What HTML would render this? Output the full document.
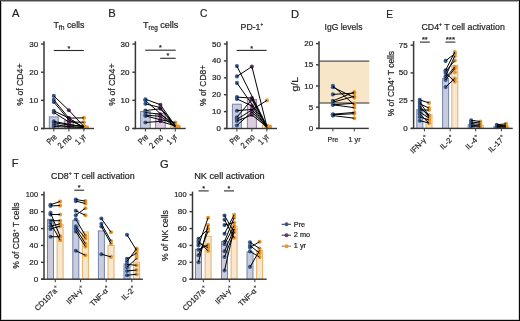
<!DOCTYPE html>
<html><head><meta charset="utf-8"><style>
html,body{margin:0;padding:0;background:#fff;}
body{width:520px;height:321px;overflow:hidden;position:relative;}
svg{position:absolute;left:0;top:0;font-family:"Liberation Sans", sans-serif;will-change:transform;}
text{stroke:#262626;stroke-width:0.22px;}
.b{position:absolute;}
</style></head><body>
<svg width="520" height="321" viewBox="0 0 520 321">
<text x="12" y="17" font-size="11.2" fill="#262626">A</text>
<text x="108.2" y="17" font-size="11.2" fill="#262626">B</text>
<text x="200.1" y="17" font-size="11.2" textLength="7.4" lengthAdjust="spacingAndGlyphs" fill="#262626">C</text>
<text x="291" y="17.5" font-size="11.2" fill="#262626">D</text>
<text x="386.3" y="17.8" font-size="11.2" textLength="6.7" lengthAdjust="spacingAndGlyphs" fill="#262626">E</text>
<text x="11.8" y="166.5" font-size="11.2" fill="#262626">F</text>
<text x="160" y="167.5" font-size="11.2" fill="#262626">G</text>
<text x="53.4" y="27.7" font-size="9.3" textLength="31" lengthAdjust="spacingAndGlyphs" fill="#262626">T<tspan font-size="7" dy="2">fh</tspan><tspan dy="-2" font-size="9.1"> cells</tspan></text>
<text x="143" y="27.7" font-size="9.1" fill="#262626">T<tspan font-size="6.3" dy="2">reg</tspan><tspan dy="-2"> cells</tspan></text>
<text x="240.6" y="29.6" font-size="9.4" textLength="22.6" lengthAdjust="spacingAndGlyphs" fill="#262626">PD-1<tspan font-size="5" dy="-3.5">+</tspan></text>
<text x="324.6" y="29.6" font-size="9.2" textLength="37.9" lengthAdjust="spacingAndGlyphs" fill="#262626">IgG levels</text>
<text x="421.4" y="29.9" font-size="9.2" textLength="83.4" lengthAdjust="spacingAndGlyphs" fill="#262626">CD4<tspan font-size="5" dy="-3.5">+</tspan><tspan dy="3.5"> T cell activation</tspan></text>
<text x="51" y="178.5" font-size="9.2" textLength="83.6" lengthAdjust="spacingAndGlyphs" fill="#262626">CD8<tspan font-size="5" dy="-3.5">+</tspan><tspan dy="3.5"> T cell activation</tspan></text>
<text x="194.2" y="178.5" font-size="9.2" textLength="70.4" lengthAdjust="spacingAndGlyphs" fill="#262626">NK cell activation</text>
<rect x="49.3" y="116.9" width="9" height="11.599999999999994" fill="#cacbdd" stroke="#7385ab" stroke-width="1"/>
<rect x="64.4" y="120.8" width="9" height="7.700000000000003" fill="#dccde0" stroke="#9c78a1" stroke-width="1"/>
<rect x="79.4" y="126.8" width="9" height="1.7000000000000028" fill="#f7e6d0" stroke="#e8b168" stroke-width="1"/>
<circle cx="53.8" cy="95.9" r="2.05" fill="#385a8c"/>
<circle cx="68.9" cy="110.3" r="2.05" fill="#6b3a6d"/>
<circle cx="83.9" cy="126.5" r="2.05" fill="#e6992e"/>
<circle cx="53.8" cy="99.8" r="2.05" fill="#385a8c"/>
<circle cx="68.9" cy="118.1" r="2.05" fill="#6b3a6d"/>
<circle cx="83.9" cy="127.5" r="2.05" fill="#e6992e"/>
<circle cx="53.8" cy="102" r="2.05" fill="#385a8c"/>
<circle cx="68.9" cy="120.1" r="2.05" fill="#6b3a6d"/>
<circle cx="83.9" cy="127" r="2.05" fill="#e6992e"/>
<circle cx="53.8" cy="110.9" r="2.05" fill="#385a8c"/>
<circle cx="68.9" cy="118.1" r="2.05" fill="#6b3a6d"/>
<circle cx="83.9" cy="117.9" r="2.05" fill="#e6992e"/>
<circle cx="53.8" cy="112.5" r="2.05" fill="#385a8c"/>
<circle cx="68.9" cy="122" r="2.05" fill="#6b3a6d"/>
<circle cx="83.9" cy="122.2" r="2.05" fill="#e6992e"/>
<circle cx="53.8" cy="121.4" r="2.05" fill="#385a8c"/>
<circle cx="68.9" cy="124.3" r="2.05" fill="#6b3a6d"/>
<circle cx="83.9" cy="127" r="2.05" fill="#e6992e"/>
<circle cx="53.8" cy="122.7" r="2.05" fill="#385a8c"/>
<circle cx="68.9" cy="125" r="2.05" fill="#6b3a6d"/>
<circle cx="83.9" cy="126" r="2.05" fill="#e6992e"/>
<circle cx="53.8" cy="124.7" r="2.05" fill="#385a8c"/>
<circle cx="68.9" cy="126.5" r="2.05" fill="#6b3a6d"/>
<circle cx="83.9" cy="127.5" r="2.05" fill="#e6992e"/>
<circle cx="53.8" cy="126.6" r="2.05" fill="#385a8c"/>
<circle cx="68.9" cy="127" r="2.05" fill="#6b3a6d"/>
<circle cx="83.9" cy="127.5" r="2.05" fill="#e6992e"/>
<polyline points="53.8,95.9 68.9,110.3 83.9,126.5" fill="none" stroke="#000" stroke-width="1.0"/>
<polyline points="53.8,99.8 68.9,118.1 83.9,127.5" fill="none" stroke="#000" stroke-width="1.0"/>
<polyline points="53.8,102.0 68.9,120.1 83.9,127.0" fill="none" stroke="#000" stroke-width="1.0"/>
<polyline points="53.8,110.9 68.9,118.1 83.9,117.9" fill="none" stroke="#000" stroke-width="1.0"/>
<polyline points="53.8,112.5 68.9,122.0 83.9,122.2" fill="none" stroke="#000" stroke-width="1.0"/>
<polyline points="53.8,121.4 68.9,124.3 83.9,127.0" fill="none" stroke="#000" stroke-width="1.0"/>
<polyline points="53.8,122.7 68.9,125.0 83.9,126.0" fill="none" stroke="#000" stroke-width="1.0"/>
<polyline points="53.8,124.7 68.9,126.5 83.9,127.5" fill="none" stroke="#000" stroke-width="1.0"/>
<polyline points="53.8,126.6 68.9,127.0 83.9,127.5" fill="none" stroke="#000" stroke-width="1.0"/>
<circle cx="86.8" cy="127.2" r="2.05" fill="#e6992e"/>
<rect x="43.25" y="41.2" width="1.5" height="88.0" fill="#383838"/>
<line x1="41.0" y1="128.5" x2="44" y2="128.5" stroke="#383838" stroke-width="1.4"/>
<text x="38.1" y="131.0" font-size="8.0" text-anchor="end" fill="#262626">0</text>
<line x1="41.0" y1="100.35" x2="44" y2="100.35" stroke="#383838" stroke-width="1.4"/>
<text x="38.1" y="102.85" font-size="8.0" text-anchor="end" fill="#262626">10</text>
<line x1="41.0" y1="72.2" x2="44" y2="72.2" stroke="#383838" stroke-width="1.4"/>
<text x="38.1" y="74.7" font-size="8.0" text-anchor="end" fill="#262626">20</text>
<line x1="41.0" y1="44.05" x2="44" y2="44.05" stroke="#383838" stroke-width="1.4"/>
<text x="38.1" y="46.55" font-size="8.0" text-anchor="end" fill="#262626">30</text>
<rect x="41" y="127.8" width="53" height="1.4" fill="#383838"/>
<text x="23.2" y="84.6" font-size="9.6" text-anchor="middle" textLength="42.2" lengthAdjust="spacingAndGlyphs" transform="rotate(-90 23.2 84.6)" fill="#262626">% of CD4+</text>
<line x1="53.8" y1="128.5" x2="53.8" y2="131.5" stroke="#383838" stroke-width="1.0"/>
<line x1="68.9" y1="128.5" x2="68.9" y2="131.5" stroke="#383838" stroke-width="1.0"/>
<line x1="83.9" y1="128.5" x2="83.9" y2="131.5" stroke="#383838" stroke-width="1.0"/>
<text x="57.4" y="137.5" font-size="8.5" fill="#262626" text-anchor="end" textLength="10.5" lengthAdjust="spacingAndGlyphs" transform="rotate(-45 57.4 137.5)">Pre</text>
<text x="72.5" y="137.5" font-size="8.5" fill="#262626" text-anchor="end" textLength="16.3" lengthAdjust="spacingAndGlyphs" transform="rotate(-45 72.5 137.5)">2 mo</text>
<text x="86.5" y="137.3" font-size="8.5" fill="#262626" text-anchor="end" textLength="11.2" lengthAdjust="spacingAndGlyphs" transform="rotate(-45 86.5 137.3)">1 yr</text>
<line x1="53.8" y1="50.5" x2="83.8" y2="50.5" stroke="#2a2a2a" stroke-width="1.1"/>
<text x="68.8" y="50.6" font-size="7.2" text-anchor="middle" fill="#262626">*</text>
<rect x="140.6" y="111.5" width="9.6" height="17.0" fill="#cacbdd" stroke="#7385ab" stroke-width="1"/>
<rect x="155.6" y="113.7" width="9.6" height="14.799999999999997" fill="#dccde0" stroke="#9c78a1" stroke-width="1"/>
<rect x="170.5" y="126.1" width="9.6" height="2.4000000000000057" fill="#f7e6d0" stroke="#e8b168" stroke-width="1"/>
<circle cx="145.4" cy="99.2" r="2.05" fill="#385a8c"/>
<circle cx="160.4" cy="104.7" r="2.05" fill="#6b3a6d"/>
<circle cx="175.3" cy="126" r="2.05" fill="#e6992e"/>
<circle cx="145.4" cy="100.5" r="2.05" fill="#385a8c"/>
<circle cx="175.3" cy="126.8" r="2.05" fill="#e6992e"/>
<circle cx="145.4" cy="103.8" r="2.05" fill="#385a8c"/>
<circle cx="160.4" cy="107.6" r="2.05" fill="#6b3a6d"/>
<circle cx="175.3" cy="125.5" r="2.05" fill="#e6992e"/>
<circle cx="145.4" cy="110.5" r="2.05" fill="#385a8c"/>
<circle cx="160.4" cy="108.8" r="2.05" fill="#6b3a6d"/>
<circle cx="175.3" cy="126.3" r="2.05" fill="#e6992e"/>
<circle cx="145.4" cy="112.6" r="2.05" fill="#385a8c"/>
<circle cx="160.4" cy="114.2" r="2.05" fill="#6b3a6d"/>
<circle cx="175.3" cy="124.4" r="2.05" fill="#e6992e"/>
<circle cx="145.4" cy="115.1" r="2.05" fill="#385a8c"/>
<circle cx="160.4" cy="116.3" r="2.05" fill="#6b3a6d"/>
<circle cx="175.3" cy="127" r="2.05" fill="#e6992e"/>
<circle cx="145.4" cy="115.9" r="2.05" fill="#385a8c"/>
<circle cx="160.4" cy="119.7" r="2.05" fill="#6b3a6d"/>
<circle cx="175.3" cy="122.5" r="2.05" fill="#e6992e"/>
<circle cx="145.4" cy="122.5" r="2.05" fill="#385a8c"/>
<circle cx="160.4" cy="121.3" r="2.05" fill="#6b3a6d"/>
<circle cx="175.3" cy="126" r="2.05" fill="#e6992e"/>
<polyline points="145.4,99.2 160.4,104.7 175.3,126.0" fill="none" stroke="#000" stroke-width="1.0"/>
<polyline points="145.4,100.5 175.3,126.8" fill="none" stroke="#000" stroke-width="1.0"/>
<polyline points="145.4,103.8 160.4,107.6 175.3,125.5" fill="none" stroke="#000" stroke-width="1.0"/>
<polyline points="145.4,110.5 160.4,108.8 175.3,126.3" fill="none" stroke="#000" stroke-width="1.0"/>
<polyline points="145.4,112.6 160.4,114.2 175.3,124.4" fill="none" stroke="#000" stroke-width="1.0"/>
<polyline points="145.4,115.1 160.4,116.3 175.3,127.0" fill="none" stroke="#000" stroke-width="1.0"/>
<polyline points="145.4,115.9 160.4,119.7 175.3,122.5" fill="none" stroke="#000" stroke-width="1.0"/>
<polyline points="145.4,122.5 160.4,121.3 175.3,126.0" fill="none" stroke="#000" stroke-width="1.0"/>
<circle cx="178.5" cy="126.5" r="2.05" fill="#e6992e"/>
<rect x="134.65" y="41.2" width="1.5" height="88.0" fill="#383838"/>
<line x1="132.4" y1="128.5" x2="135.4" y2="128.5" stroke="#383838" stroke-width="1.4"/>
<text x="129.5" y="131.0" font-size="8.0" text-anchor="end" fill="#262626">0</text>
<line x1="132.4" y1="100.35" x2="135.4" y2="100.35" stroke="#383838" stroke-width="1.4"/>
<text x="129.5" y="102.85" font-size="8.0" text-anchor="end" fill="#262626">10</text>
<line x1="132.4" y1="72.2" x2="135.4" y2="72.2" stroke="#383838" stroke-width="1.4"/>
<text x="129.5" y="74.7" font-size="8.0" text-anchor="end" fill="#262626">20</text>
<line x1="132.4" y1="44.05" x2="135.4" y2="44.05" stroke="#383838" stroke-width="1.4"/>
<text x="129.5" y="46.55" font-size="8.0" text-anchor="end" fill="#262626">30</text>
<rect x="132.4" y="127.8" width="53.29999999999998" height="1.4" fill="#383838"/>
<text x="115.1" y="84.6" font-size="9.6" text-anchor="middle" textLength="42.2" lengthAdjust="spacingAndGlyphs" transform="rotate(-90 115.1 84.6)" fill="#262626">% of CD4+</text>
<line x1="145.4" y1="128.5" x2="145.4" y2="131.5" stroke="#383838" stroke-width="1.0"/>
<line x1="160.4" y1="128.5" x2="160.4" y2="131.5" stroke="#383838" stroke-width="1.0"/>
<line x1="175.3" y1="128.5" x2="175.3" y2="131.5" stroke="#383838" stroke-width="1.0"/>
<text x="149.0" y="137.5" font-size="8.5" fill="#262626" text-anchor="end" textLength="10.5" lengthAdjust="spacingAndGlyphs" transform="rotate(-45 149.0 137.5)">Pre</text>
<text x="164.0" y="137.5" font-size="8.5" fill="#262626" text-anchor="end" textLength="16.3" lengthAdjust="spacingAndGlyphs" transform="rotate(-45 164.0 137.5)">2 mo</text>
<text x="177.9" y="137.3" font-size="8.5" fill="#262626" text-anchor="end" textLength="11.2" lengthAdjust="spacingAndGlyphs" transform="rotate(-45 177.9 137.3)">1 yr</text>
<line x1="145.2" y1="50.2" x2="175.7" y2="50.2" stroke="#2a2a2a" stroke-width="1.1"/>
<text x="160.45" y="50.300000000000004" font-size="7.2" text-anchor="middle" fill="#262626">*</text>
<line x1="160.2" y1="58.3" x2="175.7" y2="58.3" stroke="#2a2a2a" stroke-width="1.1"/>
<text x="167.95" y="58.4" font-size="7.2" text-anchor="middle" fill="#262626">*</text>
<rect x="232.4" y="104.2" width="9" height="24.299999999999997" fill="#cacbdd" stroke="#7385ab" stroke-width="1"/>
<rect x="247.4" y="99.4" width="9" height="29.099999999999994" fill="#dccde0" stroke="#9c78a1" stroke-width="1"/>
<rect x="262.4" y="125.1" width="9" height="3.4000000000000057" fill="#f7e6d0" stroke="#e8b168" stroke-width="1"/>
<circle cx="236.9" cy="66.1" r="2.05" fill="#385a8c"/>
<circle cx="266.9" cy="126" r="2.05" fill="#e6992e"/>
<circle cx="236.9" cy="76.4" r="2.05" fill="#385a8c"/>
<circle cx="251.9" cy="66.6" r="2.05" fill="#6b3a6d"/>
<circle cx="266.9" cy="126.5" r="2.05" fill="#e6992e"/>
<circle cx="236.9" cy="82.9" r="2.05" fill="#385a8c"/>
<circle cx="266.9" cy="125.5" r="2.05" fill="#e6992e"/>
<circle cx="236.9" cy="97.1" r="2.05" fill="#385a8c"/>
<circle cx="251.9" cy="98.1" r="2.05" fill="#6b3a6d"/>
<circle cx="266.9" cy="127" r="2.05" fill="#e6992e"/>
<circle cx="236.9" cy="98.9" r="2.05" fill="#385a8c"/>
<circle cx="251.9" cy="106" r="2.05" fill="#6b3a6d"/>
<circle cx="266.9" cy="127.5" r="2.05" fill="#e6992e"/>
<circle cx="236.9" cy="110.7" r="2.05" fill="#385a8c"/>
<circle cx="251.9" cy="109.4" r="2.05" fill="#6b3a6d"/>
<circle cx="266.9" cy="126.8" r="2.05" fill="#e6992e"/>
<circle cx="236.9" cy="117.2" r="2.05" fill="#385a8c"/>
<circle cx="251.9" cy="99.4" r="2.05" fill="#6b3a6d"/>
<circle cx="266.9" cy="127.2" r="2.05" fill="#e6992e"/>
<circle cx="236.9" cy="119.4" r="2.05" fill="#385a8c"/>
<circle cx="266.9" cy="100.4" r="2.05" fill="#e6992e"/>
<circle cx="236.9" cy="121" r="2.05" fill="#385a8c"/>
<circle cx="251.9" cy="114.9" r="2.05" fill="#6b3a6d"/>
<circle cx="266.9" cy="127" r="2.05" fill="#e6992e"/>
<circle cx="236.9" cy="125.5" r="2.05" fill="#385a8c"/>
<circle cx="251.9" cy="112" r="2.05" fill="#6b3a6d"/>
<circle cx="266.9" cy="127.5" r="2.05" fill="#e6992e"/>
<polyline points="236.9,66.1 266.9,126.0" fill="none" stroke="#000" stroke-width="1.0"/>
<polyline points="236.9,76.4 251.9,66.6 266.9,126.5" fill="none" stroke="#000" stroke-width="1.0"/>
<polyline points="236.9,82.9 266.9,125.5" fill="none" stroke="#000" stroke-width="1.0"/>
<polyline points="236.9,97.1 251.9,98.1 266.9,127.0" fill="none" stroke="#000" stroke-width="1.0"/>
<polyline points="236.9,98.9 251.9,106.0 266.9,127.5" fill="none" stroke="#000" stroke-width="1.0"/>
<polyline points="236.9,110.7 251.9,109.4 266.9,126.8" fill="none" stroke="#000" stroke-width="1.0"/>
<polyline points="236.9,117.2 251.9,99.4 266.9,127.2" fill="none" stroke="#000" stroke-width="1.0"/>
<polyline points="236.9,119.4 266.9,100.4" fill="none" stroke="#000" stroke-width="1.0"/>
<polyline points="236.9,121.0 251.9,114.9 266.9,127.0" fill="none" stroke="#000" stroke-width="1.0"/>
<polyline points="236.9,125.5 251.9,112.0 266.9,127.5" fill="none" stroke="#000" stroke-width="1.0"/>
<circle cx="269.8" cy="126.8" r="2.05" fill="#e6992e"/>
<rect x="226.15" y="41.2" width="1.5" height="88.0" fill="#383838"/>
<line x1="223.9" y1="128.5" x2="226.9" y2="128.5" stroke="#383838" stroke-width="1.4"/>
<text x="221.0" y="131.0" font-size="8.0" text-anchor="end" fill="#262626">0</text>
<line x1="223.9" y1="111.6" x2="226.9" y2="111.6" stroke="#383838" stroke-width="1.4"/>
<text x="221.0" y="114.1" font-size="8.0" text-anchor="end" fill="#262626">10</text>
<line x1="223.9" y1="94.7" x2="226.9" y2="94.7" stroke="#383838" stroke-width="1.4"/>
<text x="221.0" y="97.2" font-size="8.0" text-anchor="end" fill="#262626">20</text>
<line x1="223.9" y1="77.80000000000001" x2="226.9" y2="77.80000000000001" stroke="#383838" stroke-width="1.4"/>
<text x="221.0" y="80.30000000000001" font-size="8.0" text-anchor="end" fill="#262626">30</text>
<line x1="223.9" y1="60.900000000000006" x2="226.9" y2="60.900000000000006" stroke="#383838" stroke-width="1.4"/>
<text x="221.0" y="63.400000000000006" font-size="8.0" text-anchor="end" fill="#262626">40</text>
<line x1="223.9" y1="44.0" x2="226.9" y2="44.0" stroke="#383838" stroke-width="1.4"/>
<text x="221.0" y="46.5" font-size="8.0" text-anchor="end" fill="#262626">50</text>
<rect x="223.9" y="127.8" width="53.099999999999994" height="1.4" fill="#383838"/>
<text x="206.5" y="85.4" font-size="9.6" text-anchor="middle" textLength="41.1" lengthAdjust="spacingAndGlyphs" transform="rotate(-90 206.5 85.4)" fill="#262626">% of CD8+</text>
<line x1="236.9" y1="128.5" x2="236.9" y2="131.5" stroke="#383838" stroke-width="1.0"/>
<line x1="251.9" y1="128.5" x2="251.9" y2="131.5" stroke="#383838" stroke-width="1.0"/>
<line x1="266.9" y1="128.5" x2="266.9" y2="131.5" stroke="#383838" stroke-width="1.0"/>
<text x="240.5" y="137.5" font-size="8.5" fill="#262626" text-anchor="end" textLength="10.5" lengthAdjust="spacingAndGlyphs" transform="rotate(-45 240.5 137.5)">Pre</text>
<text x="255.5" y="137.5" font-size="8.5" fill="#262626" text-anchor="end" textLength="16.3" lengthAdjust="spacingAndGlyphs" transform="rotate(-45 255.5 137.5)">2 mo</text>
<text x="269.5" y="137.3" font-size="8.5" fill="#262626" text-anchor="end" textLength="11.2" lengthAdjust="spacingAndGlyphs" transform="rotate(-45 269.5 137.3)">1 yr</text>
<line x1="236.7" y1="50.4" x2="266.6" y2="50.4" stroke="#2a2a2a" stroke-width="1.1"/>
<text x="251.65" y="50.5" font-size="7.2" text-anchor="middle" fill="#262626">*</text>
<rect x="319" y="61.1" width="50.3" height="41.9" fill="#f7e6c8"/>
<line x1="319" y1="61.1" x2="369.3" y2="61.1" stroke="#2a2a2a" stroke-width="1.0"/>
<line x1="319" y1="103.0" x2="369.3" y2="103.0" stroke="#2a2a2a" stroke-width="1.0"/>
<circle cx="332.9" cy="85.9" r="2.05" fill="#385a8c"/>
<circle cx="354.3" cy="104.8" r="2.05" fill="#e6992e"/>
<circle cx="332.9" cy="87.2" r="2.05" fill="#385a8c"/>
<circle cx="354.3" cy="97.6" r="2.05" fill="#e6992e"/>
<circle cx="332.9" cy="94.4" r="2.05" fill="#385a8c"/>
<circle cx="354.3" cy="93.1" r="2.05" fill="#e6992e"/>
<circle cx="332.9" cy="100.9" r="2.05" fill="#385a8c"/>
<circle cx="354.3" cy="92" r="2.05" fill="#e6992e"/>
<circle cx="332.9" cy="102.2" r="2.05" fill="#385a8c"/>
<circle cx="354.3" cy="96.3" r="2.05" fill="#e6992e"/>
<circle cx="332.9" cy="104.8" r="2.05" fill="#385a8c"/>
<circle cx="354.3" cy="107.7" r="2.05" fill="#e6992e"/>
<circle cx="332.9" cy="104.8" r="2.05" fill="#385a8c"/>
<circle cx="354.3" cy="103.3" r="2.05" fill="#e6992e"/>
<circle cx="332.9" cy="114.2" r="2.05" fill="#385a8c"/>
<circle cx="354.3" cy="112.4" r="2.05" fill="#e6992e"/>
<circle cx="332.9" cy="115.6" r="2.05" fill="#385a8c"/>
<circle cx="354.3" cy="118.2" r="2.05" fill="#e6992e"/>
<circle cx="332.9" cy="114.8" r="2.05" fill="#385a8c"/>
<circle cx="354.3" cy="113.7" r="2.05" fill="#e6992e"/>
<polyline points="332.9,85.9 354.3,104.8" fill="none" stroke="#000" stroke-width="1.0"/>
<polyline points="332.9,87.2 354.3,97.6" fill="none" stroke="#000" stroke-width="1.0"/>
<polyline points="332.9,94.4 354.3,93.1" fill="none" stroke="#000" stroke-width="1.0"/>
<polyline points="332.9,100.9 354.3,92.0" fill="none" stroke="#000" stroke-width="1.0"/>
<polyline points="332.9,102.2 354.3,96.3" fill="none" stroke="#000" stroke-width="1.0"/>
<polyline points="332.9,104.8 354.3,107.7" fill="none" stroke="#000" stroke-width="1.0"/>
<polyline points="332.9,104.8 354.3,103.3" fill="none" stroke="#000" stroke-width="1.0"/>
<polyline points="332.9,114.2 354.3,112.4" fill="none" stroke="#000" stroke-width="1.0"/>
<polyline points="332.9,115.6 354.3,118.2" fill="none" stroke="#000" stroke-width="1.0"/>
<polyline points="332.9,114.8 354.3,113.7" fill="none" stroke="#000" stroke-width="1.0"/>
<rect x="318.25" y="41.2" width="1.5" height="87.9" fill="#383838"/>
<line x1="316.0" y1="128.4" x2="319" y2="128.4" stroke="#383838" stroke-width="1.4"/>
<text x="313.1" y="130.9" font-size="8.0" text-anchor="end" fill="#262626">0</text>
<line x1="316.0" y1="107.2" x2="319" y2="107.2" stroke="#383838" stroke-width="1.4"/>
<text x="313.1" y="109.7" font-size="8.0" text-anchor="end" fill="#262626">5</text>
<line x1="316.0" y1="86.0" x2="319" y2="86.0" stroke="#383838" stroke-width="1.4"/>
<text x="313.1" y="88.5" font-size="8.0" text-anchor="end" fill="#262626">10</text>
<line x1="316.0" y1="64.80000000000001" x2="319" y2="64.80000000000001" stroke="#383838" stroke-width="1.4"/>
<text x="313.1" y="67.30000000000001" font-size="8.0" text-anchor="end" fill="#262626">15</text>
<line x1="316.0" y1="43.599999999999994" x2="319" y2="43.599999999999994" stroke="#383838" stroke-width="1.4"/>
<text x="313.1" y="46.099999999999994" font-size="8.0" text-anchor="end" fill="#262626">20</text>
<rect x="316" y="127.7" width="52.80000000000001" height="1.4" fill="#383838"/>
<text x="298.0" y="84.3" font-size="9.3" text-anchor="middle" textLength="14.5" lengthAdjust="spacingAndGlyphs" transform="rotate(-90 298.0 84.3)" fill="#262626">g/L</text>
<line x1="332.9" y1="128.4" x2="332.9" y2="131.4" stroke="#383838" stroke-width="1.0"/>
<line x1="354.3" y1="128.4" x2="354.3" y2="131.4" stroke="#383838" stroke-width="1.0"/>
<text x="333" y="141.5" font-size="8" text-anchor="middle" textLength="10.8" lengthAdjust="spacingAndGlyphs" fill="#262626">Pre</text>
<text x="354.6" y="141.5" font-size="8" text-anchor="middle" textLength="12" lengthAdjust="spacingAndGlyphs" fill="#262626">1 yr</text>
<rect x="416.79999999999995" y="109.7" width="6" height="18.700000000000003" fill="#cacbdd" stroke="#7385ab" stroke-width="1"/>
<rect x="426.0" y="114.7" width="6" height="13.700000000000003" fill="#f7e6d0" stroke="#e8b168" stroke-width="1"/>
<circle cx="419.79999999999995" cy="99.9" r="2.05" fill="#385a8c"/>
<circle cx="429.0" cy="102.9" r="2.05" fill="#e6992e"/>
<circle cx="419.79999999999995" cy="101.8" r="2.05" fill="#385a8c"/>
<circle cx="429.0" cy="116" r="2.05" fill="#e6992e"/>
<circle cx="419.79999999999995" cy="103.7" r="2.05" fill="#385a8c"/>
<circle cx="429.0" cy="108.1" r="2.05" fill="#e6992e"/>
<circle cx="419.79999999999995" cy="105.9" r="2.05" fill="#385a8c"/>
<circle cx="429.0" cy="117" r="2.05" fill="#e6992e"/>
<circle cx="419.79999999999995" cy="108" r="2.05" fill="#385a8c"/>
<circle cx="429.0" cy="115" r="2.05" fill="#e6992e"/>
<circle cx="419.79999999999995" cy="110" r="2.05" fill="#385a8c"/>
<circle cx="429.0" cy="110" r="2.05" fill="#e6992e"/>
<circle cx="419.79999999999995" cy="112" r="2.05" fill="#385a8c"/>
<circle cx="429.0" cy="118" r="2.05" fill="#e6992e"/>
<circle cx="419.79999999999995" cy="114" r="2.05" fill="#385a8c"/>
<circle cx="429.0" cy="123.2" r="2.05" fill="#e6992e"/>
<circle cx="419.79999999999995" cy="120.7" r="2.05" fill="#385a8c"/>
<circle cx="429.0" cy="123" r="2.05" fill="#e6992e"/>
<circle cx="419.79999999999995" cy="117" r="2.05" fill="#385a8c"/>
<circle cx="429.0" cy="120" r="2.05" fill="#e6992e"/>
<polyline points="419.8,99.9 429.0,102.9" fill="none" stroke="#000" stroke-width="1.0"/>
<polyline points="419.8,101.8 429.0,116.0" fill="none" stroke="#000" stroke-width="1.0"/>
<polyline points="419.8,103.7 429.0,108.1" fill="none" stroke="#000" stroke-width="1.0"/>
<polyline points="419.8,105.9 429.0,117.0" fill="none" stroke="#000" stroke-width="1.0"/>
<polyline points="419.8,108.0 429.0,115.0" fill="none" stroke="#000" stroke-width="1.0"/>
<polyline points="419.8,110.0 429.0,110.0" fill="none" stroke="#000" stroke-width="1.0"/>
<polyline points="419.8,112.0 429.0,118.0" fill="none" stroke="#000" stroke-width="1.0"/>
<polyline points="419.8,114.0 429.0,123.2" fill="none" stroke="#000" stroke-width="1.0"/>
<polyline points="419.8,120.7 429.0,123.0" fill="none" stroke="#000" stroke-width="1.0"/>
<polyline points="419.8,117.0 429.0,120.0" fill="none" stroke="#000" stroke-width="1.0"/>
<rect x="442.59999999999997" y="78.5" width="6" height="49.900000000000006" fill="#cacbdd" stroke="#7385ab" stroke-width="1"/>
<rect x="451.8" y="65.3" width="6" height="63.10000000000001" fill="#f7e6d0" stroke="#e8b168" stroke-width="1"/>
<circle cx="445.59999999999997" cy="60.9" r="2.05" fill="#385a8c"/>
<circle cx="454.8" cy="53.6" r="2.05" fill="#e6992e"/>
<circle cx="445.59999999999997" cy="70.2" r="2.05" fill="#385a8c"/>
<circle cx="454.8" cy="52" r="2.05" fill="#e6992e"/>
<circle cx="445.59999999999997" cy="71.5" r="2.05" fill="#385a8c"/>
<circle cx="454.8" cy="60.6" r="2.05" fill="#e6992e"/>
<circle cx="445.59999999999997" cy="76.2" r="2.05" fill="#385a8c"/>
<circle cx="454.8" cy="55.9" r="2.05" fill="#e6992e"/>
<circle cx="445.59999999999997" cy="77.7" r="2.05" fill="#385a8c"/>
<circle cx="454.8" cy="66.8" r="2.05" fill="#e6992e"/>
<circle cx="445.59999999999997" cy="80" r="2.05" fill="#385a8c"/>
<circle cx="454.8" cy="68.4" r="2.05" fill="#e6992e"/>
<circle cx="445.59999999999997" cy="87.1" r="2.05" fill="#385a8c"/>
<circle cx="454.8" cy="78.5" r="2.05" fill="#e6992e"/>
<circle cx="445.59999999999997" cy="73" r="2.05" fill="#385a8c"/>
<circle cx="454.8" cy="81.6" r="2.05" fill="#e6992e"/>
<circle cx="454.8" cy="72.3" r="2.05" fill="#e6992e"/>
<polyline points="445.6,60.9 454.8,53.6" fill="none" stroke="#000" stroke-width="1.0"/>
<polyline points="445.6,70.2 454.8,52.0" fill="none" stroke="#000" stroke-width="1.0"/>
<polyline points="445.6,71.5 454.8,60.6" fill="none" stroke="#000" stroke-width="1.0"/>
<polyline points="445.6,76.2 454.8,55.9" fill="none" stroke="#000" stroke-width="1.0"/>
<polyline points="445.6,77.7 454.8,66.8" fill="none" stroke="#000" stroke-width="1.0"/>
<polyline points="445.6,80.0 454.8,68.4" fill="none" stroke="#000" stroke-width="1.0"/>
<polyline points="445.6,87.1 454.8,78.5" fill="none" stroke="#000" stroke-width="1.0"/>
<polyline points="445.6,73.0 454.8,81.6" fill="none" stroke="#000" stroke-width="1.0"/>
<polyline points="454.8,72.3" fill="none" stroke="#000" stroke-width="1.0"/>
<rect x="468.09999999999997" y="124.7" width="6" height="3.700000000000003" fill="#cacbdd" stroke="#7385ab" stroke-width="1"/>
<rect x="477.3" y="125.5" width="6" height="2.9000000000000057" fill="#f7e6d0" stroke="#e8b168" stroke-width="1"/>
<circle cx="471.09999999999997" cy="120.3" r="2.05" fill="#385a8c"/>
<circle cx="480.3" cy="121.5" r="2.05" fill="#e6992e"/>
<circle cx="471.09999999999997" cy="122" r="2.05" fill="#385a8c"/>
<circle cx="480.3" cy="123" r="2.05" fill="#e6992e"/>
<circle cx="471.09999999999997" cy="123.5" r="2.05" fill="#385a8c"/>
<circle cx="480.3" cy="124.5" r="2.05" fill="#e6992e"/>
<circle cx="471.09999999999997" cy="125" r="2.05" fill="#385a8c"/>
<circle cx="480.3" cy="126" r="2.05" fill="#e6992e"/>
<circle cx="471.09999999999997" cy="126.5" r="2.05" fill="#385a8c"/>
<circle cx="480.3" cy="127" r="2.05" fill="#e6992e"/>
<polyline points="471.1,120.3 480.3,121.5" fill="none" stroke="#000" stroke-width="1.0"/>
<polyline points="471.1,122.0 480.3,123.0" fill="none" stroke="#000" stroke-width="1.0"/>
<polyline points="471.1,123.5 480.3,124.5" fill="none" stroke="#000" stroke-width="1.0"/>
<polyline points="471.1,125.0 480.3,126.0" fill="none" stroke="#000" stroke-width="1.0"/>
<polyline points="471.1,126.5 480.3,127.0" fill="none" stroke="#000" stroke-width="1.0"/>
<rect x="493.79999999999995" y="126.8" width="6" height="1.6000000000000085" fill="#cacbdd" stroke="#7385ab" stroke-width="1"/>
<rect x="503.0" y="126.7" width="6" height="1.7000000000000028" fill="#f7e6d0" stroke="#e8b168" stroke-width="1"/>
<circle cx="496.79999999999995" cy="124.8" r="2.05" fill="#385a8c"/>
<circle cx="506.0" cy="123.8" r="2.05" fill="#e6992e"/>
<circle cx="496.79999999999995" cy="125.8" r="2.05" fill="#385a8c"/>
<circle cx="506.0" cy="125.2" r="2.05" fill="#e6992e"/>
<circle cx="496.79999999999995" cy="126.6" r="2.05" fill="#385a8c"/>
<circle cx="506.0" cy="126.3" r="2.05" fill="#e6992e"/>
<circle cx="496.79999999999995" cy="127.3" r="2.05" fill="#385a8c"/>
<circle cx="506.0" cy="127.2" r="2.05" fill="#e6992e"/>
<polyline points="496.8,124.8 506.0,123.8" fill="none" stroke="#000" stroke-width="1.0"/>
<polyline points="496.8,125.8 506.0,125.2" fill="none" stroke="#000" stroke-width="1.0"/>
<polyline points="496.8,126.6 506.0,126.3" fill="none" stroke="#000" stroke-width="1.0"/>
<polyline points="496.8,127.3 506.0,127.2" fill="none" stroke="#000" stroke-width="1.0"/>
<rect x="412.85" y="41.2" width="1.5" height="87.9" fill="#383838"/>
<line x1="410.6" y1="128.4" x2="413.6" y2="128.4" stroke="#383838" stroke-width="1.4"/>
<text x="407.70000000000005" y="130.9" font-size="8.0" text-anchor="end" fill="#262626">0</text>
<line x1="410.6" y1="100.65" x2="413.6" y2="100.65" stroke="#383838" stroke-width="1.4"/>
<text x="407.70000000000005" y="103.15" font-size="8.0" text-anchor="end" fill="#262626">25</text>
<line x1="410.6" y1="72.9" x2="413.6" y2="72.9" stroke="#383838" stroke-width="1.4"/>
<text x="407.70000000000005" y="75.4" font-size="8.0" text-anchor="end" fill="#262626">50</text>
<line x1="410.6" y1="45.14999999999999" x2="413.6" y2="45.14999999999999" stroke="#383838" stroke-width="1.4"/>
<text x="407.70000000000005" y="47.64999999999999" font-size="8.0" text-anchor="end" fill="#262626">75</text>
<rect x="410.6" y="127.7" width="102.10000000000002" height="1.4" fill="#383838"/>
<text x="393.6" y="83.6" font-size="9.6" fill="#262626" text-anchor="middle" textLength="65.3" lengthAdjust="spacingAndGlyphs" transform="rotate(-90 393.6 83.6)">% of CD4<tspan font-size="5.5" dy="-3">+</tspan><tspan dy="3"> T cells</tspan></text>
<line x1="424.4" y1="128.4" x2="424.4" y2="131.4" stroke="#383838" stroke-width="1.0"/>
<line x1="450.2" y1="128.4" x2="450.2" y2="131.4" stroke="#383838" stroke-width="1.0"/>
<line x1="475.7" y1="128.4" x2="475.7" y2="131.4" stroke="#383838" stroke-width="1.0"/>
<line x1="501.4" y1="128.4" x2="501.4" y2="131.4" stroke="#383838" stroke-width="1.0"/>
<text x="428.9" y="138.4" font-size="7.6" fill="#262626" text-anchor="end" transform="rotate(-45 428.9 138.4)">IFN-γ<tspan font-size="4.8" dx="0.6" dy="-3.4">+</tspan></text>
<text x="454.7" y="138.4" font-size="7.6" fill="#262626" text-anchor="end" transform="rotate(-45 454.7 138.4)">IL-2<tspan font-size="4.8" dx="0.6" dy="-3.4">+</tspan></text>
<text x="480.2" y="138.4" font-size="7.6" fill="#262626" text-anchor="end" transform="rotate(-45 480.2 138.4)">IL-4<tspan font-size="4.8" dx="0.6" dy="-3.4">+</tspan></text>
<text x="505.9" y="138.4" font-size="7.6" fill="#262626" text-anchor="end" transform="rotate(-45 505.9 138.4)">IL-17<tspan font-size="4.8" dx="0.6" dy="-3.4">+</tspan></text>
<line x1="419.8" y1="42.1" x2="429.8" y2="42.1" stroke="#2a2a2a" stroke-width="1.1"/>
<text x="424.8" y="42.2" font-size="7.2" text-anchor="middle" textLength="5.8" lengthAdjust="spacingAndGlyphs" fill="#262626">**</text>
<line x1="445.4" y1="42.1" x2="455.4" y2="42.1" stroke="#2a2a2a" stroke-width="1.1"/>
<text x="450.4" y="42.2" font-size="7.2" text-anchor="middle" textLength="9.4" lengthAdjust="spacingAndGlyphs" fill="#262626">***</text>
<rect x="47.5" y="219.4" width="6" height="59.79999999999998" fill="#cacbdd" stroke="#7385ab" stroke-width="1"/>
<rect x="57.099999999999994" y="224.6" width="6" height="54.599999999999994" fill="#f7e6d0" stroke="#e8b168" stroke-width="1"/>
<circle cx="50.5" cy="204.7" r="2.05" fill="#385a8c"/>
<circle cx="60.099999999999994" cy="201.5" r="2.05" fill="#e6992e"/>
<circle cx="50.5" cy="205.9" r="2.05" fill="#385a8c"/>
<circle cx="60.099999999999994" cy="205.6" r="2.05" fill="#e6992e"/>
<circle cx="50.5" cy="212.9" r="2.05" fill="#385a8c"/>
<circle cx="60.099999999999994" cy="236.3" r="2.05" fill="#e6992e"/>
<circle cx="50.5" cy="214.5" r="2.05" fill="#385a8c"/>
<circle cx="60.099999999999994" cy="214.5" r="2.05" fill="#e6992e"/>
<circle cx="50.5" cy="220.7" r="2.05" fill="#385a8c"/>
<circle cx="60.099999999999994" cy="220.7" r="2.05" fill="#e6992e"/>
<circle cx="50.5" cy="223" r="2.05" fill="#385a8c"/>
<circle cx="60.099999999999994" cy="240.2" r="2.05" fill="#e6992e"/>
<circle cx="50.5" cy="226.2" r="2.05" fill="#385a8c"/>
<circle cx="60.099999999999994" cy="223.8" r="2.05" fill="#e6992e"/>
<circle cx="50.5" cy="229" r="2.05" fill="#385a8c"/>
<circle cx="60.099999999999994" cy="226.2" r="2.05" fill="#e6992e"/>
<circle cx="50.5" cy="236.7" r="2.05" fill="#385a8c"/>
<circle cx="60.099999999999994" cy="236.8" r="2.05" fill="#e6992e"/>
<polyline points="50.5,204.7 60.1,201.5" fill="none" stroke="#000" stroke-width="1.0"/>
<polyline points="50.5,205.9 60.1,205.6" fill="none" stroke="#000" stroke-width="1.0"/>
<polyline points="50.5,212.9 60.1,236.3" fill="none" stroke="#000" stroke-width="1.0"/>
<polyline points="50.5,214.5 60.1,214.5" fill="none" stroke="#000" stroke-width="1.0"/>
<polyline points="50.5,220.7 60.1,220.7" fill="none" stroke="#000" stroke-width="1.0"/>
<polyline points="50.5,223.0 60.1,240.2" fill="none" stroke="#000" stroke-width="1.0"/>
<polyline points="50.5,226.2 60.1,223.8" fill="none" stroke="#000" stroke-width="1.0"/>
<polyline points="50.5,229.0 60.1,226.2" fill="none" stroke="#000" stroke-width="1.0"/>
<polyline points="50.5,236.7 60.1,236.8" fill="none" stroke="#000" stroke-width="1.0"/>
<rect x="72.8" y="220.4" width="6" height="58.79999999999998" fill="#cacbdd" stroke="#7385ab" stroke-width="1"/>
<rect x="82.39999999999999" y="231.9" width="6" height="47.29999999999998" fill="#f7e6d0" stroke="#e8b168" stroke-width="1"/>
<circle cx="75.8" cy="199.5" r="2.05" fill="#385a8c"/>
<circle cx="85.39999999999999" cy="201.1" r="2.05" fill="#e6992e"/>
<circle cx="75.8" cy="201.1" r="2.05" fill="#385a8c"/>
<circle cx="85.39999999999999" cy="203.5" r="2.05" fill="#e6992e"/>
<circle cx="75.8" cy="210.8" r="2.05" fill="#385a8c"/>
<circle cx="85.39999999999999" cy="215.2" r="2.05" fill="#e6992e"/>
<circle cx="75.8" cy="215.2" r="2.05" fill="#385a8c"/>
<circle cx="85.39999999999999" cy="208.2" r="2.05" fill="#e6992e"/>
<circle cx="75.8" cy="219.3" r="2.05" fill="#385a8c"/>
<circle cx="85.39999999999999" cy="235.5" r="2.05" fill="#e6992e"/>
<circle cx="75.8" cy="226.4" r="2.05" fill="#385a8c"/>
<circle cx="85.39999999999999" cy="238.5" r="2.05" fill="#e6992e"/>
<circle cx="75.8" cy="228.4" r="2.05" fill="#385a8c"/>
<circle cx="85.39999999999999" cy="243.6" r="2.05" fill="#e6992e"/>
<circle cx="75.8" cy="231.4" r="2.05" fill="#385a8c"/>
<circle cx="85.39999999999999" cy="246.6" r="2.05" fill="#e6992e"/>
<circle cx="75.8" cy="250.7" r="2.05" fill="#385a8c"/>
<circle cx="85.39999999999999" cy="255.3" r="2.05" fill="#e6992e"/>
<polyline points="75.8,199.5 85.4,201.1" fill="none" stroke="#000" stroke-width="1.0"/>
<polyline points="75.8,201.1 85.4,203.5" fill="none" stroke="#000" stroke-width="1.0"/>
<polyline points="75.8,210.8 85.4,215.2" fill="none" stroke="#000" stroke-width="1.0"/>
<polyline points="75.8,215.2 85.4,208.2" fill="none" stroke="#000" stroke-width="1.0"/>
<polyline points="75.8,219.3 85.4,235.5" fill="none" stroke="#000" stroke-width="1.0"/>
<polyline points="75.8,226.4 85.4,238.5" fill="none" stroke="#000" stroke-width="1.0"/>
<polyline points="75.8,228.4 85.4,243.6" fill="none" stroke="#000" stroke-width="1.0"/>
<polyline points="75.8,231.4 85.4,246.6" fill="none" stroke="#000" stroke-width="1.0"/>
<polyline points="75.8,250.7 85.4,255.3" fill="none" stroke="#000" stroke-width="1.0"/>
<rect x="98.4" y="230.9" width="6" height="48.29999999999998" fill="#cacbdd" stroke="#7385ab" stroke-width="1"/>
<rect x="108.0" y="245.5" width="6" height="33.69999999999999" fill="#f7e6d0" stroke="#e8b168" stroke-width="1"/>
<circle cx="101.4" cy="218.5" r="2.05" fill="#385a8c"/>
<circle cx="111.0" cy="232.3" r="2.05" fill="#e6992e"/>
<circle cx="101.4" cy="223.8" r="2.05" fill="#385a8c"/>
<circle cx="111.0" cy="241" r="2.05" fill="#e6992e"/>
<circle cx="101.4" cy="226.5" r="2.05" fill="#385a8c"/>
<circle cx="111.0" cy="243.7" r="2.05" fill="#e6992e"/>
<circle cx="101.4" cy="254.2" r="2.05" fill="#385a8c"/>
<circle cx="111.0" cy="256.9" r="2.05" fill="#e6992e"/>
<polyline points="101.4,218.5 111.0,232.3" fill="none" stroke="#000" stroke-width="1.0"/>
<polyline points="101.4,223.8 111.0,241.0" fill="none" stroke="#000" stroke-width="1.0"/>
<polyline points="101.4,226.5 111.0,243.7" fill="none" stroke="#000" stroke-width="1.0"/>
<polyline points="101.4,254.2 111.0,256.9" fill="none" stroke="#000" stroke-width="1.0"/>
<rect x="124.00000000000001" y="264.0" width="6" height="15.199999999999989" fill="#cacbdd" stroke="#7385ab" stroke-width="1"/>
<rect x="133.60000000000002" y="262.1" width="6" height="17.099999999999966" fill="#f7e6d0" stroke="#e8b168" stroke-width="1"/>
<circle cx="127.00000000000001" cy="234.8" r="2.05" fill="#385a8c"/>
<circle cx="136.60000000000002" cy="250.3" r="2.05" fill="#e6992e"/>
<circle cx="127.00000000000001" cy="258.8" r="2.05" fill="#385a8c"/>
<circle cx="136.60000000000002" cy="253.1" r="2.05" fill="#e6992e"/>
<circle cx="127.00000000000001" cy="261.6" r="2.05" fill="#385a8c"/>
<circle cx="136.60000000000002" cy="248.5" r="2.05" fill="#e6992e"/>
<circle cx="127.00000000000001" cy="264.4" r="2.05" fill="#385a8c"/>
<circle cx="136.60000000000002" cy="265.3" r="2.05" fill="#e6992e"/>
<circle cx="127.00000000000001" cy="267.2" r="2.05" fill="#385a8c"/>
<circle cx="136.60000000000002" cy="258.4" r="2.05" fill="#e6992e"/>
<circle cx="127.00000000000001" cy="271" r="2.05" fill="#385a8c"/>
<circle cx="136.60000000000002" cy="270" r="2.05" fill="#e6992e"/>
<circle cx="127.00000000000001" cy="275.3" r="2.05" fill="#385a8c"/>
<circle cx="136.60000000000002" cy="274.2" r="2.05" fill="#e6992e"/>
<circle cx="136.60000000000002" cy="256" r="2.05" fill="#e6992e"/>
<polyline points="127.0,234.8 136.6,250.3" fill="none" stroke="#000" stroke-width="1.0"/>
<polyline points="127.0,258.8 136.6,253.1" fill="none" stroke="#000" stroke-width="1.0"/>
<polyline points="127.0,261.6 136.6,248.5" fill="none" stroke="#000" stroke-width="1.0"/>
<polyline points="127.0,264.4 136.6,265.3" fill="none" stroke="#000" stroke-width="1.0"/>
<polyline points="127.0,267.2 136.6,258.4" fill="none" stroke="#000" stroke-width="1.0"/>
<polyline points="127.0,271.0 136.6,270.0" fill="none" stroke="#000" stroke-width="1.0"/>
<polyline points="127.0,275.3 136.6,274.2" fill="none" stroke="#000" stroke-width="1.0"/>
<polyline points="136.6,256.0" fill="none" stroke="#000" stroke-width="1.0"/>
<rect x="43.25" y="191.6" width="1.5" height="88.3" fill="#383838"/>
<line x1="41.0" y1="279.2" x2="44" y2="279.2" stroke="#383838" stroke-width="1.4"/>
<text x="38.1" y="281.7" font-size="8.0" text-anchor="end" fill="#262626">0</text>
<line x1="41.0" y1="262.32" x2="44" y2="262.32" stroke="#383838" stroke-width="1.4"/>
<text x="38.1" y="264.82" font-size="8.0" text-anchor="end" fill="#262626">20</text>
<line x1="41.0" y1="245.44" x2="44" y2="245.44" stroke="#383838" stroke-width="1.4"/>
<text x="38.1" y="247.94" font-size="8.0" text-anchor="end" fill="#262626">40</text>
<line x1="41.0" y1="228.56" x2="44" y2="228.56" stroke="#383838" stroke-width="1.4"/>
<text x="38.1" y="231.06" font-size="8.0" text-anchor="end" fill="#262626">60</text>
<line x1="41.0" y1="211.68" x2="44" y2="211.68" stroke="#383838" stroke-width="1.4"/>
<text x="38.1" y="214.18" font-size="8.0" text-anchor="end" fill="#262626">80</text>
<line x1="41.0" y1="194.8" x2="44" y2="194.8" stroke="#383838" stroke-width="1.4"/>
<text x="38.1" y="197.3" font-size="8.0" text-anchor="end" textLength="12.4" lengthAdjust="spacingAndGlyphs" fill="#262626">100</text>
<rect x="41" y="278.5" width="101.9" height="1.4" fill="#383838"/>
<text x="18.8" y="235.6" font-size="9.6" fill="#262626" text-anchor="middle" textLength="66.2" lengthAdjust="spacingAndGlyphs" transform="rotate(-90 18.8 235.6)">% of CD8<tspan font-size="5.5" dy="-3">+</tspan><tspan dy="3"> T cells</tspan></text>
<line x1="55.3" y1="279.2" x2="55.3" y2="282.2" stroke="#383838" stroke-width="1.0"/>
<line x1="80.6" y1="279.2" x2="80.6" y2="282.2" stroke="#383838" stroke-width="1.0"/>
<line x1="106.2" y1="279.2" x2="106.2" y2="282.2" stroke="#383838" stroke-width="1.0"/>
<line x1="131.8" y1="279.2" x2="131.8" y2="282.2" stroke="#383838" stroke-width="1.0"/>
<text x="59.8" y="289.1" font-size="7.6" fill="#262626" text-anchor="end" transform="rotate(-45 59.8 289.1)">CD107a<tspan font-size="4.8" dx="0.6" dy="-3.4">+</tspan></text>
<text x="85.1" y="289.1" font-size="7.6" fill="#262626" text-anchor="end" transform="rotate(-45 85.1 289.1)">IFN-γ<tspan font-size="4.8" dx="0.6" dy="-3.4">+</tspan></text>
<text x="110.7" y="289.1" font-size="7.6" fill="#262626" text-anchor="end" transform="rotate(-45 110.7 289.1)">TNF-α<tspan font-size="4.8" dx="0.6" dy="-3.4">+</tspan></text>
<text x="136.3" y="289.1" font-size="7.6" fill="#262626" text-anchor="end" transform="rotate(-45 136.3 289.1)">IL-2<tspan font-size="4.8" dx="0.6" dy="-3.4">+</tspan></text>
<line x1="74.3" y1="190.2" x2="84.2" y2="190.2" stroke="#2a2a2a" stroke-width="1.1"/>
<text x="79.25" y="190.29999999999998" font-size="7.2" text-anchor="middle" fill="#262626">*</text>
<rect x="195.5" y="249.3" width="6" height="29.899999999999977" fill="#cacbdd" stroke="#7385ab" stroke-width="1"/>
<rect x="205.10000000000002" y="236.3" width="6" height="42.89999999999998" fill="#f7e6d0" stroke="#e8b168" stroke-width="1"/>
<circle cx="198.5" cy="238.8" r="2.05" fill="#385a8c"/>
<circle cx="208.10000000000002" cy="228.6" r="2.05" fill="#e6992e"/>
<circle cx="198.5" cy="241" r="2.05" fill="#385a8c"/>
<circle cx="208.10000000000002" cy="250.9" r="2.05" fill="#e6992e"/>
<circle cx="198.5" cy="245.4" r="2.05" fill="#385a8c"/>
<circle cx="208.10000000000002" cy="217.7" r="2.05" fill="#e6992e"/>
<circle cx="198.5" cy="249.8" r="2.05" fill="#385a8c"/>
<circle cx="208.10000000000002" cy="244.7" r="2.05" fill="#e6992e"/>
<circle cx="198.5" cy="255.2" r="2.05" fill="#385a8c"/>
<circle cx="208.10000000000002" cy="231.2" r="2.05" fill="#e6992e"/>
<circle cx="198.5" cy="262.2" r="2.05" fill="#385a8c"/>
<circle cx="208.10000000000002" cy="225.1" r="2.05" fill="#e6992e"/>
<circle cx="198.5" cy="243" r="2.05" fill="#385a8c"/>
<circle cx="208.10000000000002" cy="247.6" r="2.05" fill="#e6992e"/>
<polyline points="198.5,238.8 208.1,228.6" fill="none" stroke="#000" stroke-width="1.0"/>
<polyline points="198.5,241.0 208.1,250.9" fill="none" stroke="#000" stroke-width="1.0"/>
<polyline points="198.5,245.4 208.1,217.7" fill="none" stroke="#000" stroke-width="1.0"/>
<polyline points="198.5,249.8 208.1,244.7" fill="none" stroke="#000" stroke-width="1.0"/>
<polyline points="198.5,255.2 208.1,231.2" fill="none" stroke="#000" stroke-width="1.0"/>
<polyline points="198.5,262.2 208.1,225.1" fill="none" stroke="#000" stroke-width="1.0"/>
<polyline points="198.5,243.0 208.1,247.6" fill="none" stroke="#000" stroke-width="1.0"/>
<rect x="221.5" y="241.6" width="6" height="37.599999999999994" fill="#cacbdd" stroke="#7385ab" stroke-width="1"/>
<rect x="231.10000000000002" y="226.7" width="6" height="52.5" fill="#f7e6d0" stroke="#e8b168" stroke-width="1"/>
<circle cx="224.5" cy="215.5" r="2.05" fill="#385a8c"/>
<circle cx="234.10000000000002" cy="232.3" r="2.05" fill="#e6992e"/>
<circle cx="224.5" cy="219.8" r="2.05" fill="#385a8c"/>
<circle cx="234.10000000000002" cy="237.8" r="2.05" fill="#e6992e"/>
<circle cx="224.5" cy="225.1" r="2.05" fill="#385a8c"/>
<circle cx="234.10000000000002" cy="222.5" r="2.05" fill="#e6992e"/>
<circle cx="224.5" cy="233.8" r="2.05" fill="#385a8c"/>
<circle cx="234.10000000000002" cy="214.8" r="2.05" fill="#e6992e"/>
<circle cx="224.5" cy="241.7" r="2.05" fill="#385a8c"/>
<circle cx="234.10000000000002" cy="217.7" r="2.05" fill="#e6992e"/>
<circle cx="224.5" cy="244.3" r="2.05" fill="#385a8c"/>
<circle cx="234.10000000000002" cy="225.7" r="2.05" fill="#e6992e"/>
<circle cx="224.5" cy="251.3" r="2.05" fill="#385a8c"/>
<circle cx="234.10000000000002" cy="229" r="2.05" fill="#e6992e"/>
<circle cx="224.5" cy="257" r="2.05" fill="#385a8c"/>
<circle cx="234.10000000000002" cy="232.3" r="2.05" fill="#e6992e"/>
<circle cx="224.5" cy="270.5" r="2.05" fill="#385a8c"/>
<circle cx="234.10000000000002" cy="229" r="2.05" fill="#e6992e"/>
<polyline points="224.5,215.5 234.1,232.3" fill="none" stroke="#000" stroke-width="1.0"/>
<polyline points="224.5,219.8 234.1,237.8" fill="none" stroke="#000" stroke-width="1.0"/>
<polyline points="224.5,225.1 234.1,222.5" fill="none" stroke="#000" stroke-width="1.0"/>
<polyline points="224.5,233.8 234.1,214.8" fill="none" stroke="#000" stroke-width="1.0"/>
<polyline points="224.5,241.7 234.1,217.7" fill="none" stroke="#000" stroke-width="1.0"/>
<polyline points="224.5,244.3 234.1,225.7" fill="none" stroke="#000" stroke-width="1.0"/>
<polyline points="224.5,251.3 234.1,229.0" fill="none" stroke="#000" stroke-width="1.0"/>
<polyline points="224.5,257.0 234.1,232.3" fill="none" stroke="#000" stroke-width="1.0"/>
<polyline points="224.5,270.5 234.1,229.0" fill="none" stroke="#000" stroke-width="1.0"/>
<rect x="247.0" y="251.9" width="6" height="27.299999999999983" fill="#cacbdd" stroke="#7385ab" stroke-width="1"/>
<rect x="256.6" y="250.7" width="6" height="28.5" fill="#f7e6d0" stroke="#e8b168" stroke-width="1"/>
<circle cx="250.0" cy="242.3" r="2.05" fill="#385a8c"/>
<circle cx="259.6" cy="248.5" r="2.05" fill="#e6992e"/>
<circle cx="250.0" cy="245.5" r="2.05" fill="#385a8c"/>
<circle cx="259.6" cy="253.2" r="2.05" fill="#e6992e"/>
<circle cx="250.0" cy="247.5" r="2.05" fill="#385a8c"/>
<circle cx="259.6" cy="241.7" r="2.05" fill="#e6992e"/>
<circle cx="250.0" cy="251.4" r="2.05" fill="#385a8c"/>
<circle cx="259.6" cy="257.1" r="2.05" fill="#e6992e"/>
<circle cx="250.0" cy="266.9" r="2.05" fill="#385a8c"/>
<circle cx="259.6" cy="250.5" r="2.05" fill="#e6992e"/>
<polyline points="250.0,242.3 259.6,248.5" fill="none" stroke="#000" stroke-width="1.0"/>
<polyline points="250.0,245.5 259.6,253.2" fill="none" stroke="#000" stroke-width="1.0"/>
<polyline points="250.0,247.5 259.6,241.7" fill="none" stroke="#000" stroke-width="1.0"/>
<polyline points="250.0,251.4 259.6,257.1" fill="none" stroke="#000" stroke-width="1.0"/>
<polyline points="250.0,266.9 259.6,250.5" fill="none" stroke="#000" stroke-width="1.0"/>
<rect x="191.75" y="191.6" width="1.5" height="88.3" fill="#383838"/>
<line x1="189.5" y1="279.2" x2="192.5" y2="279.2" stroke="#383838" stroke-width="1.4"/>
<text x="186.6" y="281.7" font-size="8.0" text-anchor="end" fill="#262626">0</text>
<line x1="189.5" y1="262.32" x2="192.5" y2="262.32" stroke="#383838" stroke-width="1.4"/>
<text x="186.6" y="264.82" font-size="8.0" text-anchor="end" fill="#262626">20</text>
<line x1="189.5" y1="245.44" x2="192.5" y2="245.44" stroke="#383838" stroke-width="1.4"/>
<text x="186.6" y="247.94" font-size="8.0" text-anchor="end" fill="#262626">40</text>
<line x1="189.5" y1="228.56" x2="192.5" y2="228.56" stroke="#383838" stroke-width="1.4"/>
<text x="186.6" y="231.06" font-size="8.0" text-anchor="end" fill="#262626">60</text>
<line x1="189.5" y1="211.68" x2="192.5" y2="211.68" stroke="#383838" stroke-width="1.4"/>
<text x="186.6" y="214.18" font-size="8.0" text-anchor="end" fill="#262626">80</text>
<line x1="189.5" y1="194.8" x2="192.5" y2="194.8" stroke="#383838" stroke-width="1.4"/>
<text x="186.6" y="197.3" font-size="8.0" text-anchor="end" textLength="12.4" lengthAdjust="spacingAndGlyphs" fill="#262626">100</text>
<rect x="189.5" y="278.5" width="77.19999999999999" height="1.4" fill="#383838"/>
<text x="167.6" y="235.6" font-size="9.6" text-anchor="middle" textLength="50.8" lengthAdjust="spacingAndGlyphs" transform="rotate(-90 167.6 235.6)" fill="#262626">% of NK cells</text>
<line x1="203.3" y1="279.2" x2="203.3" y2="282.2" stroke="#383838" stroke-width="1.0"/>
<line x1="229.3" y1="279.2" x2="229.3" y2="282.2" stroke="#383838" stroke-width="1.0"/>
<line x1="254.8" y1="279.2" x2="254.8" y2="282.2" stroke="#383838" stroke-width="1.0"/>
<text x="207.8" y="289.1" font-size="7.6" fill="#262626" text-anchor="end" transform="rotate(-45 207.8 289.1)">CD107a<tspan font-size="4.8" dx="0.6" dy="-3.4">+</tspan></text>
<text x="233.8" y="289.1" font-size="7.6" fill="#262626" text-anchor="end" transform="rotate(-45 233.8 289.1)">IFN-γ<tspan font-size="4.8" dx="0.6" dy="-3.4">+</tspan></text>
<text x="259.3" y="289.1" font-size="7.6" fill="#262626" text-anchor="end" transform="rotate(-45 259.3 289.1)">TNF-α<tspan font-size="4.8" dx="0.6" dy="-3.4">+</tspan></text>
<line x1="198.5" y1="190.9" x2="208.7" y2="190.9" stroke="#2a2a2a" stroke-width="1.1"/>
<text x="203.6" y="191.0" font-size="7.2" text-anchor="middle" fill="#262626">*</text>
<line x1="224" y1="190.9" x2="234" y2="190.9" stroke="#2a2a2a" stroke-width="1.1"/>
<text x="229.0" y="191.0" font-size="7.2" text-anchor="middle" fill="#262626">*</text>
<line x1="281.6" y1="224.3" x2="291" y2="224.3" stroke="#333" stroke-width="1.0"/>
<circle cx="286.5" cy="224.3" r="2.0" fill="#385a8c"/>
<text x="293.8" y="226.5" font-size="7.3" fill="#262626">Pre</text>
<line x1="281.6" y1="235.2" x2="291" y2="235.2" stroke="#333" stroke-width="1.0"/>
<circle cx="286.5" cy="235.2" r="2.0" fill="#6b3a6d"/>
<text x="293.8" y="237.39999999999998" font-size="7.3" fill="#262626">2 mo</text>
<line x1="281.6" y1="246.2" x2="291" y2="246.2" stroke="#7a7a7a" stroke-width="1.0"/>
<circle cx="286.5" cy="246.2" r="2.0" fill="#e6992e"/>
<text x="293.8" y="248.39999999999998" font-size="7.3" fill="#262626">1 yr</text>
</svg>
<div class="b" style="left:0;top:1px;width:520px;height:1px;background:#a8a8a8"></div>
<div class="b" style="left:1px;top:1px;width:1px;height:320px;background:#c4c4c4"></div>
<div class="b" style="left:518px;top:0;width:1px;height:321px;background:#d8d8d8"></div>
<div class="b" style="left:0;top:319px;width:520px;height:1px;background:#d0d0d0"></div>
<div class="b" style="left:0;top:0;width:520px;height:1px;background:#4a4a4a"></div>
<div class="b" style="left:0;top:320px;width:520px;height:1px;background:#080808"></div>
<div class="b" style="left:0;top:1px;width:1px;height:320px;background:#060606"></div>
<div class="b" style="left:519px;top:0;width:1px;height:321px;background:#060606"></div>
</body></html>
